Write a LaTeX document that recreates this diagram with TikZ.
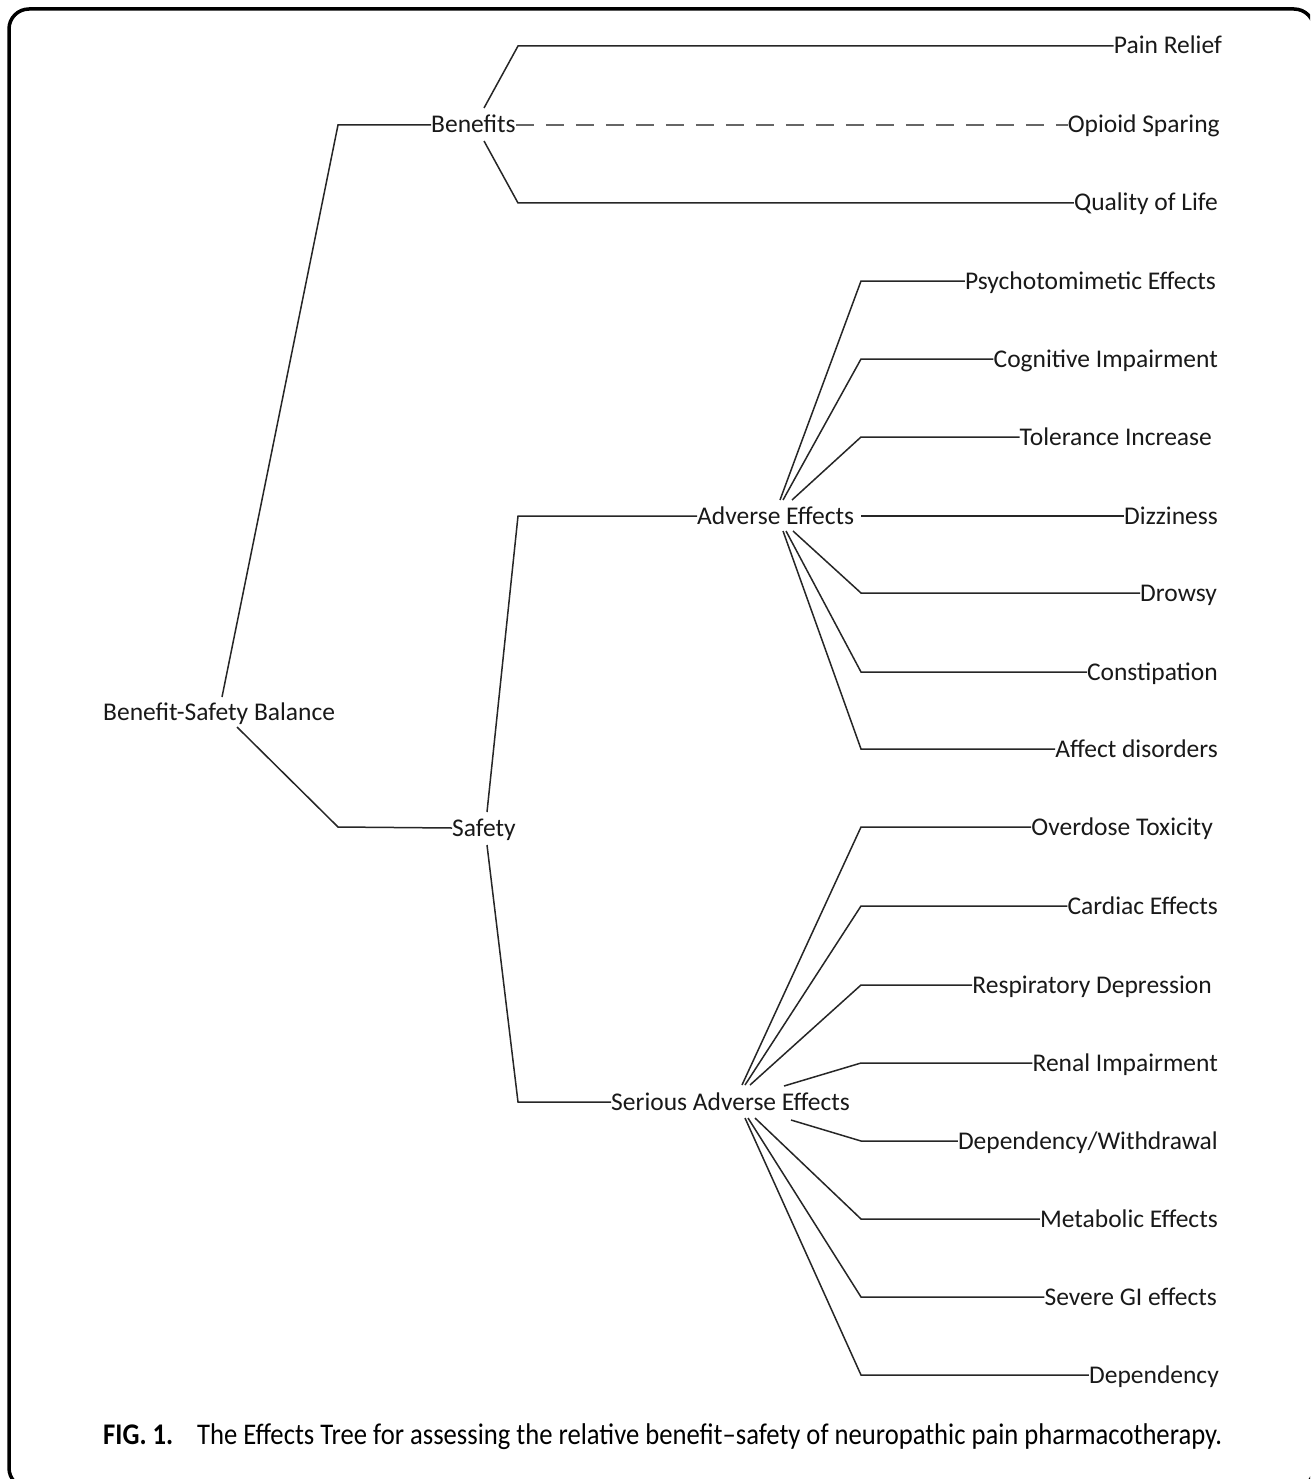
\documentclass[tikz,border=0pt]{standalone}
\usepackage{fontspec}
\setmainfont{Carlito}
\usepackage{graphicx}
\begin{document}
\begin{tikzpicture}[x=1pt,y=-1pt,
  lbl/.style={font=\fontsize{25.5}{28}\selectfont, inner sep=0pt, text=black!90, text height=20pt, text depth=4pt},
  conn/.style={line width=1.5pt, draw=black!85},
  dashconn/.style={line width=1.5pt, draw=black!60, dash pattern=on 18pt off 12pt}]
\useasboundingbox (0,0) rectangle (1310,1479);
\clip (0,0) rectangle (1310,1479);
\fill[white] (0,0) rectangle (1310,1479);
\draw[line width=3.5pt, rounded corners=20pt] (9,9) rectangle (1314,1488);

% main nodes
\node[lbl, anchor=west] (root) at (103,712) {Benefit-Safety Balance};
\node[lbl, anchor=west] (ben) at (431,125) {Benefits};
\node[lbl, anchor=west] (saf) at (452,828) {Safety};
\node[lbl, anchor=west] (ae) at (697,516) {Adverse Effects};
\node[lbl, anchor=west] (sae) at (611,1102) {Serious Adverse Effects};

% leaves
\node[lbl, anchor=east] (pain) at (1222,46) {Pain Relief};
\node[lbl, anchor=east] (opi) at (1220,125) {Opioid Sparing};
\node[lbl, anchor=east] (qol) at (1218,203) {Quality of Life};
\node[lbl, anchor=east] (psy) at (1216,281) {Psychotomimetic Effects};
\node[lbl, anchor=east] (cog) at (1218,359) {Cognitive Impairment};
\node[lbl, anchor=east] (tol) at (1212,437) {Tolerance Increase};
\node[lbl, anchor=east] (diz) at (1218,516) {Dizziness};
\node[lbl, anchor=east] (drow) at (1217,593) {Drowsy};
\node[lbl, anchor=east] (cons) at (1218,672) {Constipation};
\node[lbl, anchor=east] (aff) at (1218,749) {Affect disorders};
\node[lbl, anchor=east] (over) at (1213,827) {Overdose Toxicity};
\node[lbl, anchor=east] (card) at (1218,906) {Cardiac Effects};
\node[lbl, anchor=east] (resp) at (1212,985) {Respiratory Depression};
\node[lbl, anchor=east] (ren) at (1218,1063) {Renal Impairment};
\node[lbl, anchor=east] (depw) at (1218,1141) {Dependency/Withdrawal};
\node[lbl, anchor=east] (met) at (1218,1219) {Metabolic Effects};
\node[lbl, anchor=east] (gi) at (1217,1297) {Severe GI effects};
\node[lbl, anchor=east] (dep) at (1219,1375) {Dependency};

% start coordinates
\coordinate (rU) at (222,697);
\coordinate (rD) at (237,727);
\coordinate (bU) at (484,108);
\coordinate (bD) at (484,141);
\coordinate (sU) at (487,812);
\coordinate (sD) at (487,845);
\coordinate (aU1) at (780,500);
\coordinate (aU2) at (783,500);
\coordinate (aU3) at (792,500);
\coordinate (aR) at (861,516);
\coordinate (aD1) at (783,531);
\coordinate (aD2) at (786,531);
\coordinate (aD3) at (793,531);
\coordinate (sU1) at (742,1085);
\coordinate (sU2) at (745,1085);
\coordinate (sU3) at (750,1085);
\coordinate (sU4) at (784,1086);
\coordinate (sD4) at (791,1120);
\coordinate (sD1) at (745,1118);
\coordinate (sD2) at (748,1118);
\coordinate (sD3) at (755,1118);

% connectors
\draw[conn] (rU) -- (338,125) -- (ben.west);
\draw[conn] (rD) -- (338,827) -- (saf.west);
\draw[conn] (bU) -- (518,46) -- (pain.west);
\draw[dashconn] (ben.east) -- (opi.west);
\draw[conn] (bD) -- (518,203) -- (qol.west);
\draw[conn] (sU) -- (518,516) -- (ae.west);
\draw[conn] (sD) -- (518,1102) -- (sae.west);

\draw[conn] (aU1) -- (861,281) -- (psy.west);
\draw[conn] (aU2) -- (861,359) -- (cog.west);
\draw[conn] (aU3) -- (861,437) -- (tol.west);
\draw[conn] (aR) -- (diz.west);
\draw[conn] (aD3) -- (861,593) -- (drow.west);
\draw[conn] (aD2) -- (861,672) -- (cons.west);
\draw[conn] (aD1) -- (861,749) -- (aff.west);

\draw[conn] (sU1) -- (861,827) -- (over.west);
\draw[conn] (sU2) -- (861,906) -- (card.west);
\draw[conn] (sU3) -- (861,985) -- (resp.west);
\draw[conn] (sU4) -- (861,1063) -- (ren.west);
\draw[conn] (sD4) -- (861,1141) -- (depw.west);
\draw[conn] (sD3) -- (861,1219) -- (met.west);
\draw[conn] (sD2) -- (861,1297) -- (gi.west);
\draw[conn] (sD1) -- (861,1375) -- (dep.west);

% caption
\node[anchor=west, inner sep=0pt, font=\fontsize{30}{32}\selectfont] (cap) at (103,1437)
  {\resizebox{1119pt}{\height}{\textbf{FIG. 1.}\hspace{0.9em}The Effects Tree for assessing the relative benefit–safety of neuropathic pain pharmacotherapy.}};
\end{tikzpicture}
\end{document}
